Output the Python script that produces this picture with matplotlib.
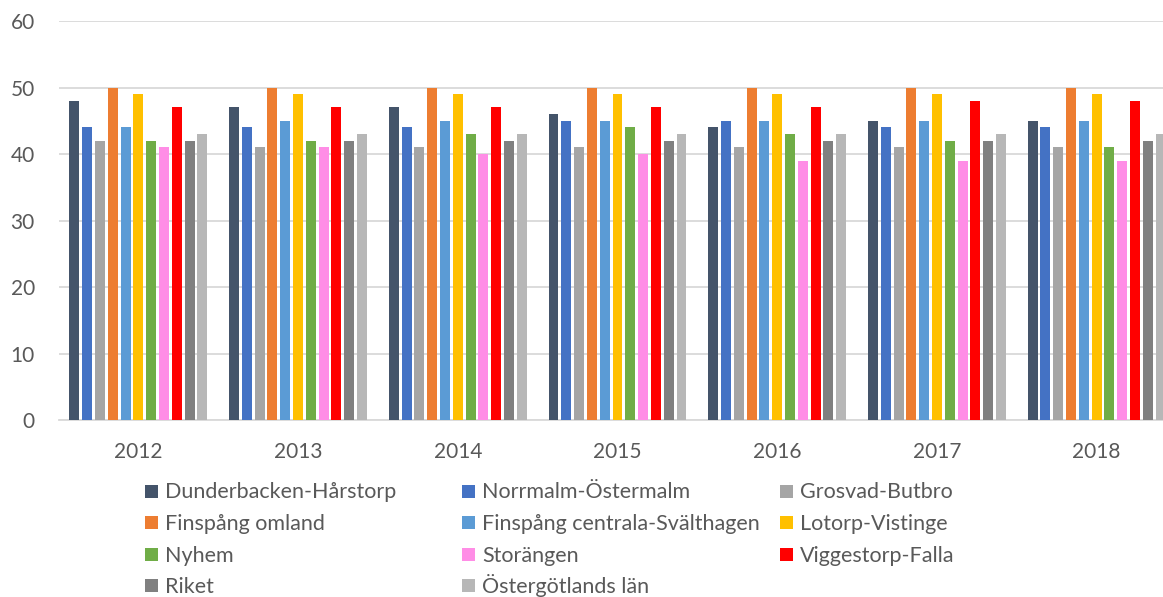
import numpy as np
import matplotlib.pyplot as plt
from matplotlib.patches import Rectangle

# ================================================
# Data
# ================================================

years = ["2012", "2013", "2014", "2015", "2016", "2017", "2018"]

areas = [
    "Dunderbacken-Hårstorp", "Norrmalm-Östermalm", "Grosvad-Butbro",
    "Finspång omland", "Finspång centrala-Svälthagen", "Lotorp-Vistinge",
    "Nyhem", "Storängen", "Viggestorp-Falla",
    "Riket", "Östergötlands län",
]

dunderbacken = [48, 47, 47, 46, 44, 45, 45]
norrmalm = [44, 44, 44, 45, 45, 44, 44]
grosvad = [42, 41, 41, 41, 41, 41, 41]
finspang_omland = [50, 50, 50, 50, 50, 50, 50]
finspang_centrala = [44, 45, 45, 45, 45, 45, 45]
lotorp = [49, 49, 49, 49, 49, 49, 49]
nyhem = [42, 42, 43, 44, 43, 42, 41]
storangen = [41, 41, 40, 40, 39, 39, 39]
viggestorp = [47, 47, 47, 47, 47, 48, 48]
riket = [42, 42, 42, 42, 42, 42, 42]
ostergotland = [43, 43, 43, 43, 43, 43, 43]

series = [dunderbacken, norrmalm, grosvad, finspang_omland, finspang_centrala,
          lotorp, nyhem, storangen, viggestorp, riket, ostergotland]

colors = ["#44546A", "#4472C4", "#A5A5A5", "#ED7D31", "#5B9BD5", "#FFC000",
          "#70AD47", "#FF8DE6", "#FF0000", "#808080", "#B7B7B7"]

# ================================================
# Plot
# ================================================

plt.rcParams['font.family'] = ['Lato', 'DejaVu Sans']
text_color = "#595959"
W, H = 1163, 597

fig = plt.figure(figsize=(W / 100, H / 100), dpi=100)
# the original chart is cropped on the right, so the axes run past the edge
ax = fig.add_axes([58.5 / W, 1 - 420 / H, 1118 / W, 399 / H])

x = np.arange(len(years))
n = len(series)
slot = 12.8 / 159.7
width = slot * 0.78
for i, (vals, c) in enumerate(zip(series, colors)):
    offs = (i - (n - 1) / 2) * slot
    ax.bar(x + offs, vals, width=width, color=c, zorder=3)

ax.set_xlim(-0.5, len(years) - 0.5)
ax.set_ylim(0, 60)
ax.set_yticks(range(0, 61, 10))
ax.set_xticks(x)
ax.set_xticklabels(years)
ax.grid(axis='y', color="#D9D9D9", linewidth=1.3, zorder=0)
for s in ["top", "right", "left"]:
    ax.spines[s].set_visible(False)
ax.spines["bottom"].set_color("#D9D9D9")
ax.spines["bottom"].set_linewidth(1.3)
ax.tick_params(axis='both', length=0, labelsize=15, colors=text_color)
ax.tick_params(axis='y', pad=17)
ax.tick_params(axis='x', pad=16)

# legend: three fixed-width columns, row-wise order like Excel
col_x = [145, 462, 780]
row_y = [491, 522.5, 554, 585.5]
box = 13
for i, (name, c) in enumerate(zip(areas, colors)):
    cx = col_x[i % 3]
    cy = row_y[i // 3]
    fig.add_artist(Rectangle((cx / W, 1 - (cy + box / 2) / H), box / W, box / H,
                             transform=fig.transFigure, facecolor=c,
                             edgecolor='none'))
    fig.text((cx + 20) / W, 1 - (cy + 7.5) / H, name, fontsize=15.5,
             color=text_color, va='baseline', ha='left')

fig.savefig("out.png", dpi=100)
